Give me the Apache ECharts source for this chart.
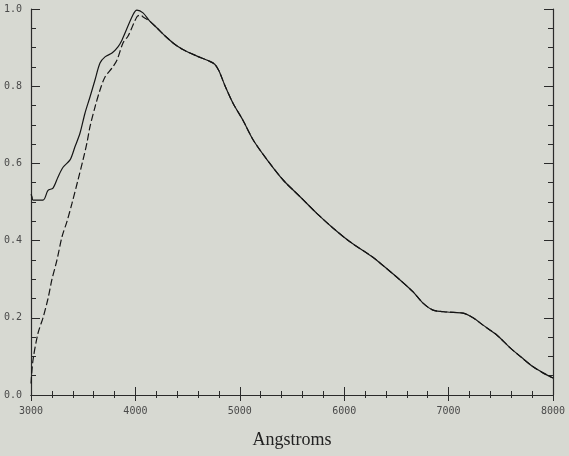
<!DOCTYPE html>
<html>
<head>
<meta charset="utf-8">
<script src="https://cdn.jsdelivr.net/npm/echarts@6/dist/echarts.min.js"></script>
<style>
  html, body { margin: 0; padding: 0; background: #d7d9d2; }
  #chart { width: 569px; height: 456px; }
</style>
</head>
<body>
<div id="chart"></div>
<script>
// wavelength (Angstroms) and relative response

// part where the two curves differ
var solidWave = [3000, 3010, 3019, 3115, 3163, 3211, 3259, 3307, 3374, 3421, 3469, 3517, 3565, 3613, 3661, 3709, 3776, 3833, 3872, 3977, 4015, 4073];
var solidVal  = [0.52, 0.513, 0.505, 0.505, 0.53, 0.536, 0.565, 0.59, 0.609, 0.643, 0.678, 0.73, 0.772, 0.816, 0.86, 0.876, 0.886, 0.902, 0.92, 0.985, 0.997, 0.99];

var dashWave = [3000, 3019, 3067, 3115, 3163, 3201, 3249, 3297, 3345, 3393, 3450, 3498, 3536, 3565, 3613, 3661, 3709, 3776, 3824, 3881, 3930, 4015, 4045, 4082];
var dashVal  = [0.03, 0.09, 0.16, 0.20, 0.25, 0.30, 0.35, 0.41, 0.45, 0.497, 0.557, 0.609, 0.653, 0.695, 0.746, 0.79, 0.824, 0.847, 0.868, 0.912, 0.93, 0.98, 0.984, 0.978];

// part shared by both curves
var commonWave = [4140, 4210, 4285, 4370, 4455, 4590, 4700, 4760, 4800, 4860, 4935, 5030, 5130, 5260, 5415, 5580, 5740, 5895, 6055, 6275, 6343, 6535, 6660, 6755, 6851, 6985, 7138, 7234, 7330, 7464, 7590, 7700, 7810, 7900, 8000];
var commonVal  = [0.968, 0.95, 0.93, 0.91, 0.895, 0.878, 0.866, 0.857, 0.84, 0.80, 0.756, 0.712, 0.66, 0.61, 0.557, 0.513, 0.47, 0.432, 0.397, 0.357, 0.342, 0.298, 0.267, 0.238, 0.22, 0.215, 0.212, 0.20, 0.181, 0.155, 0.122, 0.097, 0.073, 0.058, 0.044];

function pairs(w, v) {
    var out = [];
    for (var i = 0; i < w.length; i++) {
        out.push([w[i], v[i]]);
    }
    return out;
}

var solidData = pairs(solidWave, solidVal).concat(pairs(commonWave, commonVal));
var dashData = pairs(dashWave, dashVal).concat(pairs(commonWave, commonVal));

var chart = echarts.init(document.getElementById('chart'));

var axisColor = '#2a2a2a';
var labelStyle = { color: '#4a4a4a', fontSize: 10, fontFamily: 'DejaVu Sans Mono' };

var option = {
    backgroundColor: '#d7d9d2',
    animation: false,
    grid: { left: 31, right: 16, top: 9, bottom: 61 },
    xAxis: [
        {
            type: 'value',
            position: 'bottom',
            min: 3000, max: 8000, interval: 1000,
            axisLine: { lineStyle: { color: axisColor, width: 1.2 } },
            axisTick: { inside: true, length: 8, lineStyle: { color: axisColor } },
            minorTick: { show: true, splitNumber: 5, length: 4, lineStyle: { color: axisColor } },
            splitLine: { show: false },
            axisLabel: Object.assign({ margin: 11, formatter: function (v) { return String(v); } }, labelStyle),
            name: 'Angstroms',
            nameLocation: 'middle',
            nameGap: 36,
            nameTextStyle: { fontFamily: 'Liberation Serif', fontSize: 18, color: '#222' }
        },
        {
            type: 'value',
            position: 'top',
            min: 3000, max: 8000, interval: 1000,
            axisLine: { lineStyle: { color: axisColor, width: 1.2 } },
            axisTick: { inside: true, length: 6, lineStyle: { color: axisColor } },
            minorTick: { show: true, splitNumber: 5, length: 3, lineStyle: { color: axisColor } },
            splitLine: { show: false },
            axisLabel: { show: false }
        }
    ],
    yAxis: [
        {
            type: 'value',
            position: 'left',
            min: 0, max: 1, interval: 0.2,
            axisLine: { show: true, lineStyle: { color: axisColor, width: 1.2 } },
            axisTick: { show: true, inside: true, length: 9, lineStyle: { color: axisColor } },
            minorTick: { show: true, splitNumber: 4, length: 5, lineStyle: { color: axisColor } },
            splitLine: { show: false },
            axisLabel: Object.assign({ margin: 9, formatter: function (v) { return v.toFixed(1); } }, labelStyle)
        },
        {
            type: 'value',
            position: 'right',
            min: 0, max: 1, interval: 0.2,
            axisLine: { show: true, lineStyle: { color: axisColor, width: 1.2 } },
            axisTick: { show: true, inside: true, length: 9, lineStyle: { color: axisColor } },
            minorTick: { show: true, splitNumber: 4, length: 5, lineStyle: { color: axisColor } },
            splitLine: { show: false },
            axisLabel: { show: false }
        }
    ],
    series: [
        {
            name: 'solid',
            type: 'line',
            data: solidData,
            showSymbol: false,
            smooth: 0.3,
            lineStyle: { color: '#151515', width: 1.2 }
        },
        {
            name: 'dashed',
            type: 'line',
            data: dashData,
            showSymbol: false,
            smooth: 0.3,
            lineStyle: { color: '#151515', width: 1.2, type: [7, 3] }
        }
    ]
};

chart.setOption(option);
</script>
</body>
</html>
